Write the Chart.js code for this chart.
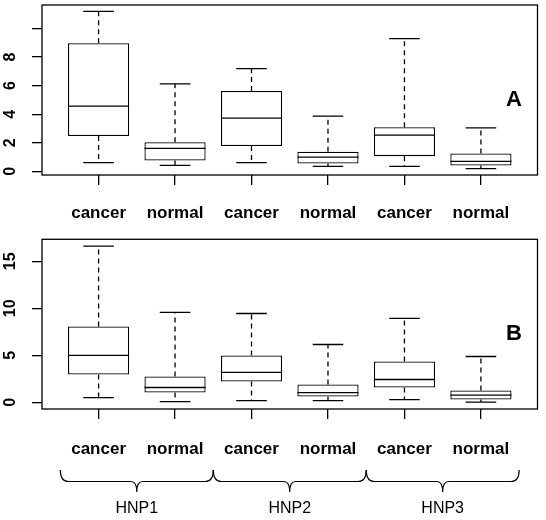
<!DOCTYPE html>
<html>
<head>
<meta charset="utf-8">
<script src="https://cdn.jsdelivr.net/npm/chart.js@4.4.1/dist/chart.umd.min.js"></script>
<style>
  html, body { margin: 0; padding: 0; background: #fff; }
  #wrap { position: relative; width: 546px; height: 520px; }
  canvas { position: absolute; left: 0; }
  #chartA { top: 0; }
  #chartB { top: 230px; }
</style>
</head>
<body>
<div id="wrap">
  <canvas id="chartA" width="546" height="230"></canvas>
  <canvas id="chartB" width="546" height="290"></canvas>
</div>
<script>
// categories
const groups = ['cancer', 'normal', 'cancer', 'normal', 'cancer', 'normal'];
const genes = ['HNP1', 'HNP2', 'HNP3'];

// panel A: whisker ends, quartiles, medians
const aLow  = [0.61, 0.42, 0.61, 0.35, 0.35, 0.19];
const aQ1   = [2.47, 0.76, 1.77, 0.54, 1.06, 0.40];
const aMed  = [4.57, 1.60, 3.72, 0.99, 2.54, 0.69];
const aQ3   = [8.97, 2.03, 5.63, 1.37, 3.09, 1.25];
const aHigh = [11.2, 6.13, 7.19, 3.87, 9.30, 3.04];
const aTicks = [0, 2, 4, 6, 8, 10];
const aTickLabels = ['0', '2', '4', '6', '8', ''];

// panel B
const bLow  = [0.50, 0.07, 0.18, 0.18, 0.28, 0.02];
const bQ1   = [2.95, 1.03, 2.20, 0.60, 1.57, 0.28];
const bMed  = [4.98, 1.57, 3.17, 1.03, 2.42, 0.75];
const bQ3   = [8.07, 2.74, 4.98, 1.89, 4.34, 1.25];
const bHigh = [16.63, 9.56, 9.45, 6.15, 8.92, 4.87];
const bTicks = [0, 5, 10, 15];
const bTickLabels = ['0', '5', '10', '15'];

const FONT = '"Liberation Sans", Arial, sans-serif';
const LW = 1.3;

function boxPlugin(q1s, q3s, low, med, high, tickVals, tickLabels, letter, withBraces) {
    return {
        id: 'boxExtras',
        afterDatasetsDraw(chart) {
            const ctx = chart.ctx;
            const xs = chart.scales.x;
            const ys = chart.scales.y;
            const area = chart.chartArea;
            const meta = chart.getDatasetMeta(0);
            ctx.save();
            ctx.strokeStyle = '#000';
            ctx.fillStyle = '#000';
            ctx.lineWidth = LW;

            groups.forEach((g, i) => {
                const x = xs.getPixelForValue(i + 1);
                const half = meta.data[i].width / 2;
                const q1 = ys.getPixelForValue(q1s[i]);
                const q3 = ys.getPixelForValue(q3s[i]);
                const lo = ys.getPixelForValue(low[i]);
                const hi = ys.getPixelForValue(high[i]);
                const capL = xs.getPixelForValue(i + 1 - 0.2);
                const capR = xs.getPixelForValue(i + 1 + 0.2);

                // dashed whiskers
                ctx.setLineDash([5, 4]);
                ctx.beginPath();
                ctx.moveTo(x, q3); ctx.lineTo(x, hi);
                ctx.moveTo(x, q1); ctx.lineTo(x, lo);
                ctx.stroke();
                ctx.setLineDash([]);

                // caps
                ctx.beginPath();
                ctx.moveTo(capL, hi); ctx.lineTo(capR, hi);
                ctx.moveTo(capL, lo); ctx.lineTo(capR, lo);
                ctx.stroke();

                // median
                const m = ys.getPixelForValue(med[i]);
                ctx.beginPath();
                ctx.moveTo(x - half, m); ctx.lineTo(x + half, m);
                ctx.stroke();
            });

            // frame
            ctx.strokeRect(area.left, area.top, area.right - area.left, area.bottom - area.top);

            // rotated y labels
            ctx.font = 'bold 16px ' + FONT;
            ctx.textAlign = 'center';
            ctx.textBaseline = 'middle';
            tickVals.forEach((v, i) => {
                if (!tickLabels[i]) return;
                ctx.save();
                ctx.translate(11, ys.getPixelForValue(v));
                ctx.rotate(-Math.PI / 2);
                ctx.fillText(tickLabels[i], 0, 0);
                ctx.restore();
            });

            // panel letter
            ctx.font = 'bold 22px ' + FONT;
            ctx.fillText(letter, area.right - 23.5, area.top + (area.bottom - area.top) * 0.557);

            if (withBraces) {
                const top = area.bottom + 61;
                const mid = area.bottom + 72.5;
                const tip = area.bottom + 83;
                const re = 8, rc = 6;
                ctx.lineWidth = 1.2;
                genes.forEach((gene, k) => {
                    const x0 = xs.getPixelForValue(k * 2 + 0.5);
                    const x1 = xs.getPixelForValue(k * 2 + 2.5);
                    const xc = xs.getPixelForValue(k * 2 + 1.5);
                    ctx.beginPath();
                    ctx.moveTo(x0, top);
                    ctx.quadraticCurveTo(x0, mid, x0 + re, mid);
                    ctx.lineTo(xc - rc, mid);
                    ctx.quadraticCurveTo(xc, mid, xc, tip);
                    ctx.quadraticCurveTo(xc, mid, xc + rc, mid);
                    ctx.lineTo(x1 - re, mid);
                    ctx.quadraticCurveTo(x1, mid, x1, top);
                    ctx.stroke();

                    ctx.font = '16px ' + FONT;
                    ctx.fillText(gene, xc, area.bottom + 99.5);
                });
            }
            ctx.restore();
        }
    };
}

function boxChart(canvas, q1, q3, low, med, high, yMin, yMax, tickVals, tickLabels, letter, opts) {
    const data = {
        datasets: [{
            type: 'bar',
            data: groups.map((g, i) => ({x: i + 1, y: [q1[i], q3[i]]})),
            backgroundColor: '#fff',
            borderColor: '#000',
            borderWidth: LW,
            borderSkipped: false,
            categoryPercentage: 1.0,
            barPercentage: 0.8
        }]
    };
    const config = {
        type: 'bar',
        data: data,
        options: {
            responsive: false,
            animation: false,
            layout: {padding: {left: 0, right: 8.5, top: opts.top, bottom: 0}},
            plugins: {legend: {display: false}, tooltip: {enabled: false}},
            scales: {
                x: {
                    type: 'linear',
                    min: 0.26,
                    max: 6.74,
                    offset: false,
                    afterBuildTicks: (axis) => { axis.ticks = groups.map((g, i) => ({value: i + 1})); },
                    afterFit: (axis) => { axis.height = opts.xHeight; },
                    grid: {offset: false, drawOnChartArea: false, drawTicks: true, tickLength: 10, color: '#000', lineWidth: LW},
                    border: {display: false},
                    ticks: {
                        callback: (v) => groups[v - 1],
                        autoSkip: false,
                        maxRotation: 0,
                        minRotation: 0,
                        padding: opts.labelPad,
                        color: '#000',
                        font: {family: FONT, size: 17, weight: 'bold'}
                    }
                },
                y: {
                    min: yMin,
                    max: yMax,
                    afterBuildTicks: (axis) => { axis.ticks = tickVals.map(v => ({value: v})); },
                    afterFit: (axis) => { axis.width = 42; },
                    grid: {drawOnChartArea: false, drawTicks: true, tickLength: 10, color: '#000', lineWidth: LW},
                    border: {display: false},
                    ticks: {display: false}
                }
            }
        },
        plugins: [boxPlugin(q1, q3, low, med, high, tickVals, tickLabels, letter, opts.braces)]
    };
    return new Chart(canvas, config);
}

boxChart(document.getElementById('chartA'), aQ1, aQ3, aLow, aMed, aHigh,
    -0.26, 11.65, aTicks, aTickLabels, 'A', {top: 5, xHeight: 55, labelPad: 18.5, braces: false});
boxChart(document.getElementById('chartB'), bQ1, bQ3, bLow, bMed, bHigh,
    -0.72, 17.35, bTicks, bTickLabels, 'B', {top: 9.3, xHeight: 111, labelPad: 20.5, braces: true});
</script>
</body>
</html>
